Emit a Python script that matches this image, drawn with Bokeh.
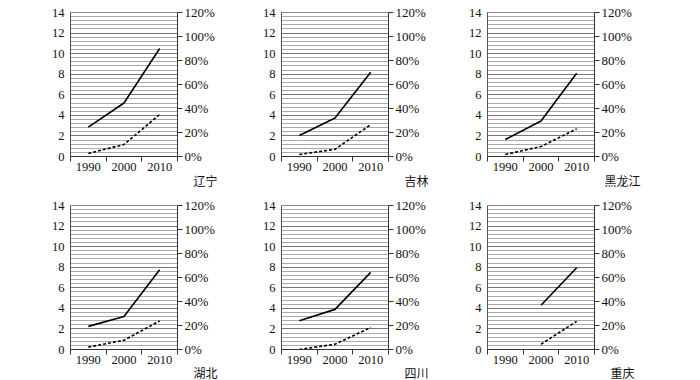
from bokeh.plotting import figure
from bokeh.layouts import column, row
from bokeh.models import (LinearAxis, Range1d, FixedTicker, PrintfTickFormatter, Title)
from bokeh.embed import file_html
from bokeh.resources import INLINE

# ---- data ----
years = [1990, 2000, 2010]
regions = ["辽宁", "吉林", "黑龙江", "湖北", "四川", "重庆"]
# solid line (left axis)
solid_liaoning = [2.85, 5.2, 10.5]
solid_jilin = [2.05, 3.75, 8.2]
solid_heilongjiang = [1.65, 3.45, 8.1]
solid_hubei = [2.25, 3.2, 7.75]
solid_sichuan = [2.8, 3.9, 7.5]
solid_chongqing = [float("nan"), 4.3, 7.95]
# dashed line (right axis, %)
dash_liaoning = [2.5, 10.0, 35.0]
dash_jilin = [1.7, 6.0, 26.5]
dash_heilongjiang = [1.7, 8.3, 23.0]
dash_hubei = [2.0, 7.7, 23.8]
dash_sichuan = [0.0, 4.4, 18.3]
dash_chongqing = [float("nan"), 4.4, 23.5]

left_ticks = [0, 2, 4, 6, 8, 10, 12, 14]
right_ticks = [0, 20, 40, 60, 80, 100, 120]

solids = [solid_liaoning, solid_jilin, solid_heilongjiang,
          solid_hubei, solid_sichuan, solid_chongqing]
dashes = [dash_liaoning, dash_jilin, dash_heilongjiang,
          dash_hubei, dash_sichuan, dash_chongqing]

SERIF = "Liberation Serif"
CJK = "Noto Sans CJK SC"
minor_y = [round(0.4 * k, 1) for k in range(36)]


def make(name, solid, dash, ml, mr, mt, mb, title_standoff):
    p = figure(frame_width=107, frame_height=144,
               x_range=Range1d(1985, 2015), y_range=Range1d(0, 14),
               output_backend="svg", toolbar_location=None,
               min_border_left=ml, min_border_right=mr,
               min_border_top=mt, min_border_bottom=mb,
               background_fill_color="white", border_fill_color="white")
    p.extra_y_ranges = {"pct": Range1d(0, 120)}
    p.outline_line_color = "#8c8c8c"
    p.xgrid.visible = False

    yt = FixedTicker(ticks=left_ticks, minor_ticks=minor_y)
    p.yaxis.ticker = yt
    p.ygrid.ticker = yt
    p.ygrid.grid_line_color = "#777777"
    p.ygrid.grid_line_width = 1
    p.ygrid.minor_grid_line_color = "#aaaaaa"
    p.ygrid.minor_grid_line_width = 1

    ya = p.yaxis[0]
    ya.major_tick_out = 0
    ya.major_tick_in = 0
    ya.minor_tick_out = 0
    ya.minor_tick_in = 0
    ya.axis_line_color = "#555555"
    ya.major_label_standoff = 6
    ya.major_label_text_font = SERIF
    ya.major_label_text_font_size = "12.5px"
    ya.major_label_text_color = "#111111"

    xa = p.xaxis[0]
    xa.ticker = FixedTicker(ticks=years, minor_ticks=[1985, 1995, 2005, 2015])
    xa.major_tick_out = 0
    xa.major_tick_in = 0
    xa.minor_tick_out = 5
    xa.minor_tick_in = 0
    xa.minor_tick_line_color = "#333333"
    xa.axis_line_color = "#333333"
    xa.major_label_standoff = 1
    xa.major_label_text_font = SERIF
    xa.major_label_text_font_size = "12.5px"
    xa.major_label_text_color = "#111111"

    ra = LinearAxis(y_range_name="pct",
                    ticker=FixedTicker(ticks=right_ticks),
                    formatter=PrintfTickFormatter(format="%d%%"))
    ra.major_tick_out = 5
    ra.major_tick_in = 0
    ra.minor_tick_out = 0
    ra.minor_tick_in = 0
    ra.axis_line_color = "#333333"
    ra.major_tick_line_color = "#333333"
    ra.major_label_standoff = 2
    ra.major_label_text_font = SERIF
    ra.major_label_text_font_size = "13px"
    ra.major_label_text_color = "#111111"
    p.add_layout(ra, "right")

    p.line(years, solid, line_color="black", line_width=1.6)
    p.line(years, dash, y_range_name="pct", line_color="black",
           line_width=1.6, line_dash="3 2")

    p.add_layout(Title(text=name, align="right", offset=-(28 + 6 * len(name)),
                       standoff=title_standoff,
                       text_font=CJK, text_font_size="12px",
                       text_font_style="normal", text_color="#111111"), "below")
    return p


lefts = [70, 59, 57]
rights = [45, 42, 52]
figs = []
for i in range(6):
    c = i % 3
    r = i // 3
    mt = 12 if r == 0 else 8
    mb = 41 if r == 0 else 31
    so = -7 if r == 0 else -9
    figs.append(make(regions[i], solids[i], dashes[i], lefts[c], rights[c], mt, mb, so))

layout = column(row(*figs[:3]), row(*figs[3:]))
open("out.html", "w").write(file_html(layout, INLINE))
